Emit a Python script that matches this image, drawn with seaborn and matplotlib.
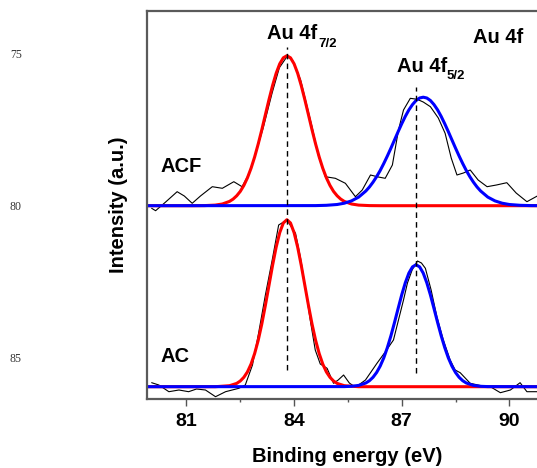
import numpy as np
import pandas as pd
import seaborn as sns
import matplotlib
matplotlib.use('Agg')
import matplotlib.pyplot as plt
from matplotlib.ticker import MultipleLocator

# binding energy (eV) and intensity (a.u.)
# AC sample: raw data
ac_energy = [80.03, 80.23, 80.51, 80.79, 81.06, 81.28, 81.53, 81.81, 82.09, 82.46, 82.64, 82.84,
             83.01, 83.20, 83.39, 83.57, 83.80, 84.04, 84.18, 84.31, 84.45, 84.59, 84.73, 84.92,
             85.10, 85.23, 85.38, 85.54, 85.71, 85.99, 86.31, 86.54, 86.77, 86.91, 87.05, 87.16,
             87.29, 87.44, 87.55, 87.66, 87.82, 87.98, 88.16, 88.35, 88.49, 88.63, 88.77, 88.91,
             89.19, 89.47, 89.75, 90.03, 90.30, 90.49, 90.78, 91.06]
ac_raw = [4, 1.7, -5, -3.3, -5, -2.3, -3.3, -10, -5, -1.6, 1.7, 21.7,
          53.4, 91.7, 126.7, 161.7, 166.7, 153.4, 128.7, 100, 66.7, 36.7, 22.7, 18.4,
          3.4, 6.7, 11.7, 3.7, -0.6, 6.7, 23.4, 34.7, 46.7, 66.7, 86.7, 103.7,
          116.7, 125.7, 123.7, 118.4, 96.7, 70, 46.7, 26.7, 16.7, 14, 8.7, 3.4,
          1.2, 0, -6, -3.3, 4, -5, -5, -3.3]

# AC fitted components
ac_f72_energy = [79.9, 81.8, 82.2, 82.4, 82.5, 82.6, 82.7, 82.8, 82.9, 83.0, 83.1, 83.2, 83.3,
                 83.4, 83.5, 83.6, 83.7, 83.8, 83.9, 84.0, 84.1, 84.2, 84.3, 84.4, 84.5, 84.6,
                 84.7, 84.8, 84.9, 85.0, 85.1, 85.2, 85.4, 85.8, 91.1]
ac_f72 = [0, 0, 1.0, 3.3, 5.7, 9.4, 14.8, 22.6, 33.1, 46.4, 62.7, 81.4, 101.3,
          121.3, 139.5, 154.1, 163.7, 167, 163.7, 154.1, 139.5, 121.3, 101.3, 81.4, 62.7, 46.4,
          33.1, 22.6, 14.8, 9.4, 5.7, 3.3, 1.0, 0, 0]
ac_f52_energy = [79.9, 85.4, 85.6, 85.8, 86.0, 86.1, 86.2, 86.3, 86.4, 86.5, 86.6, 86.7, 86.8,
                 86.9, 87.0, 87.1, 87.2, 87.3, 87.4, 87.5, 87.6, 87.7, 87.8, 87.9, 88.0, 88.1,
                 88.2, 88.3, 88.4, 88.5, 88.6, 88.7, 88.8, 89.0, 89.2, 89.4, 91.1]
ac_f52 = [0, 0.1, 0.4, 1.3, 3.7, 6.0, 9.4, 14.2, 20.6, 28.8, 39.1, 51.0, 64.3,
          78.2, 91.8, 103.9, 113.6, 119.8, 122, 119.8, 113.6, 103.9, 91.8, 78.2, 64.3, 51.0,
          39.1, 28.8, 20.6, 14.2, 9.4, 6.0, 3.7, 1.3, 0.4, 0.1, 0]

# ACF sample: raw data
acf_energy = [80.03, 80.14, 80.42, 80.74, 80.94, 81.16, 81.39, 81.72, 82.00, 82.32, 82.55, 82.73,
              82.92, 83.14, 83.39, 83.59, 83.80, 83.95, 84.18, 84.50, 84.68, 84.87, 85.15, 85.43,
              85.71, 85.90, 86.13, 86.35, 86.54, 86.74, 86.91, 87.05, 87.24, 87.43, 87.60, 87.80,
              88.02, 88.21, 88.38, 88.54, 88.72, 88.91, 89.13, 89.38, 89.64, 89.93, 90.19, 90.49,
              90.78, 91.06]
acf_raw = [-2.6, -5, 3.7, 14, 9.7, 2.4, 9.7, 19, 17.4, 24, 19, 31,
           51, 78, 113, 138, 149, 146, 126, 79, 50, 29, 27.4, 22.4,
           9, 15.7, 30.7, 28.7, 27.4, 40.7, 75.7, 95.7, 107.4, 106.4, 103.7, 99,
           87.7, 72.4, 47.7, 30.7, 32.7, 35.7, 25.7, 19, 20.7, 23, 12.7, 4,
           9.7, 10.7]

# ACF fitted components
acf_f72_energy = [79.9, 81.2, 81.5, 81.8, 82.0, 82.2, 82.3, 82.4, 82.5, 82.6, 82.7, 82.8,
                  82.9, 83.0, 83.1, 83.2, 83.3, 83.4, 83.5, 83.6, 83.7, 83.8, 83.9, 84.0,
                  84.1, 84.2, 84.3, 84.4, 84.5, 84.6, 84.7, 84.8, 84.9, 85.0, 85.1, 85.2,
                  85.3, 85.4, 85.6, 85.8, 86.1, 86.4, 91.1]
acf_f72 = [0, 0, 0.1, 0.6, 1.7, 4.3, 6.6, 9.9, 14.3, 20.3, 27.9, 37.4,
           48.7, 61.7, 75.9, 91.0, 106.0, 120.1, 132.4, 141.9, 147.9, 150, 147.9, 141.9,
           132.4, 120.1, 106.0, 91.0, 75.9, 61.7, 48.7, 37.4, 27.9, 20.3, 14.3, 9.9,
           6.6, 4.3, 1.7, 0.6, 0.1, 0, 0]
acf_f52_energy = [79.9, 84.6, 84.9, 85.2, 85.4, 85.6, 85.8, 86.0, 86.1, 86.2, 86.3, 86.4, 86.5,
                  86.6, 86.7, 86.8, 86.9, 87.0, 87.1, 87.2, 87.3, 87.4, 87.5, 87.6, 87.7, 87.8,
                  87.9, 88.0, 88.1, 88.2, 88.3, 88.4, 88.5, 88.6, 88.7, 88.8, 88.9, 89.0, 89.1,
                  89.2, 89.4, 89.6, 89.8, 90.0, 90.3, 90.6, 91.1]
acf_f52 = [0, 0.1, 0.4, 1.2, 2.5, 4.8, 8.6, 14.7, 18.7, 23.5, 29.0, 35.2, 42.2,
           49.7, 57.6, 65.8, 74.0, 81.9, 89.3, 95.8, 101.1, 105.2, 107.7, 108.5, 107.7, 105.2,
           101.1, 95.8, 89.3, 81.9, 74.0, 65.8, 57.6, 49.7, 42.2, 35.2, 29.0, 23.5, 18.7,
           14.7, 8.6, 4.8, 2.5, 1.2, 0.4, 0.1, 0]

acf_offset = 181  # vertical stacking offset of the ACF spectrum

# peak position markers (dashed lines)
peak_pos = [83.8, 87.4]
peak_line_top = [340, 299.5]
peak_line_bottom = [16.7, 13.5]

# stray manuscript line numbers at left of the page
line_numbers = ['75', '80', '85']

sns.set_theme(style='white')
plt.rcParams['font.family'] = ['Liberation Sans', 'DejaVu Sans']
plt.rcParams['text.color'] = 'black'
plt.rcParams['axes.labelcolor'] = 'black'
plt.rcParams['xtick.color'] = 'black'

fig = plt.figure(figsize=(5.37, 4.68), dpi=100)
ax = fig.add_axes([147 / 537, 69 / 468, 400 / 537, 388 / 468])

curves = [
    (ac_energy, ac_raw, 0, 'black', 0.8),
    (acf_energy, acf_raw, acf_offset, 'black', 0.8),
    (ac_f72_energy, ac_f72, 0, '#ff0000', 2.2),
    (acf_f72_energy, acf_f72, acf_offset, '#ff0000', 2.2),
    (ac_f52_energy, ac_f52, 0, '#0000ff', 2.2),
    (acf_f52_energy, acf_f52, acf_offset, '#0000ff', 2.2),
]
for e, inten, off, col, lw in curves:
    df = pd.DataFrame({'energy': e, 'intensity': np.array(inten) + off})
    sns.lineplot(data=df, x='energy', y='intensity', color=col, linewidth=lw,
                 estimator=None, ax=ax)

ax.vlines(peak_pos, peak_line_bottom, peak_line_top, colors='black',
          linestyles=(0, (4, 3)), linewidth=1.0)

ax.set_xlim(79.9, 91.05)
ax.set_ylim(-12.3, 375.7)
ax.xaxis.set_minor_locator(MultipleLocator(1.5))
ax.set_xticks([81, 84, 87, 90])
ax.set_yticks([])
ax.tick_params(axis='x', which='major', direction='out', length=5, width=1.0,
               color='#555555', labelcolor='black', bottom=True, labelsize=14, pad=5)
ax.tick_params(axis='x', which='minor', direction='out', length=2.5, width=1.0,
               color='#555555', bottom=True)
for lbl in ax.get_xticklabels():
    lbl.set_fontweight('bold')
for side in ['top', 'left', 'bottom', 'right']:
    ax.spines[side].set_color('#5a5a5a')
    ax.spines[side].set_linewidth(1.6)

ax.set_xlabel('Binding energy (eV)', fontsize=14.5, fontweight='bold', labelpad=12, color='black')
ax.set_ylabel('Intensity (a.u.)', fontsize=14.5, fontweight='bold', labelpad=14, color='black')

txt = dict(fontsize=14.5, fontweight='bold', color='black', va='baseline', ha='left')
sub = dict(fontsize=9.5, fontweight='bold', color='black', va='baseline', ha='left')
ax.text(83.25, 347.4, 'Au 4f', **txt)
ax.text(84.68, 340, '7/2', **sub)
ax.text(86.87, 315, 'Au 4f', **txt)
ax.text(88.26, 307.5, '5/2', **sub)
ax.text(89.0, 344, 'Au 4f', **txt)
ax.text(80.28, 215, 'ACF', **txt)
ax.text(80.28, 25, 'AC', **txt)

for lab, ypx in zip(line_numbers, [55, 207, 359]):
    fig.text(16 / 537, 1 - ypx / 468, lab, fontsize=8.5, family='Liberation Serif',
             ha='center', va='center', color='#333333')

fig.savefig('out.png', dpi=100)
